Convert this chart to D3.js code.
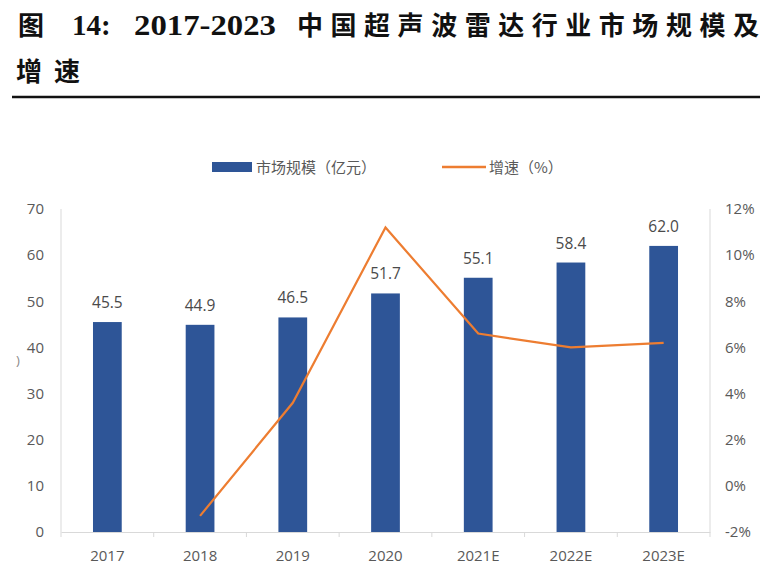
<!DOCTYPE html>
<html>
<head>
<meta charset="utf-8">
<script src="https://cdn.jsdelivr.net/npm/d3@7"></script>
<style>
  body { margin: 0; background: #fff; }
  svg { display: block; }
</style>
</head>
<body>
<div id="chart"></div>
<script>
const years = ['2017', '2018', '2019', '2020', '2021E', '2022E', '2023E']
const marketSize = [45.5, 44.9, 46.5, 51.7, 55.1, 58.4, 62.0]
// growth has no point for 2017
const growthYears = ['2018', '2019', '2020', '2021E', '2022E', '2023E']
const growth = [-1.3, 3.6, 11.2, 6.6, 6.0, 6.2]
const leftTicks = [0, 10, 20, 30, 40, 50, 60, 70]
const rightTicks = [-2, 0, 2, 4, 6, 8, 10, 12]

const width = 772
const height = 588
const margin = { top: 209, right: 62, bottom: 56, left: 61 }

const grey = '#595959'
const axisGrey = '#d9d9d9'
const barBlue = '#2e5597'
const lineOrange = '#ed7d31'
const numFont = '"Open Sans", "Noto Sans", sans-serif'
const cjkFont = '"Noto Sans CJK SC", sans-serif'
const serifFont = '"Liberation Serif", "Times New Roman", serif'

const svg = d3.select('#chart')
  .append('svg')
  .attr('width', width)
  .attr('height', height)

// title, pieced together so the latin part gets a serif face
const title = svg.append('g')
  .attr('font-weight', 'bold')
  .attr('fill', '#111')

title.append('text')
  .attr('x', 18).attr('y', 35)
  .attr('font-family', cjkFont)
  .attr('font-size', 26)
  .text('图')

title.append('text')
  .attr('x', 72).attr('y', 35)
  .attr('font-family', serifFont)
  .attr('font-size', 29)
  .text('14:')

title.append('text')
  .attr('x', 134).attr('y', 35)
  .attr('font-family', serifFont)
  .attr('font-size', 29)
  .attr('textLength', 142)
  .attr('lengthAdjust', 'spacingAndGlyphs')
  .text('2017-2023')

title.append('text')
  .attr('x', 297).attr('y', 35)
  .attr('font-family', cjkFont)
  .attr('font-size', 26)
  .attr('textLength', 462)
  .attr('lengthAdjust', 'spacing')
  .text('中国超声波雷达行业市场规模及')

title.append('text')
  .attr('x', 16).attr('y', 81)
  .attr('font-family', cjkFont)
  .attr('font-size', 26)
  .attr('textLength', 64)
  .attr('lengthAdjust', 'spacing')
  .text('增速')

svg.append('line')
  .attr('x1', 12)
  .attr('x2', 760)
  .attr('y1', 97)
  .attr('y2', 97)
  .attr('stroke', '#111')
  .attr('stroke-width', 2.5)

// scales
const x = d3.scaleBand()
  .domain(years)
  .range([margin.left, width - margin.right])
  .paddingInner(0.69)
  .paddingOuter(0.345)

const band = d3.scaleBand()
  .domain(years)
  .range([margin.left, width - margin.right])

const y = d3.scaleLinear()
  .domain([0, 70])
  .range([height - margin.bottom, margin.top])

const y2 = d3.scaleLinear()
  .domain([-2, 12])
  .range([height - margin.bottom, margin.top])

// axes
const bottom = height - margin.bottom

svg.append('line')
  .attr('x1', margin.left).attr('x2', margin.left)
  .attr('y1', margin.top).attr('y2', bottom)
  .attr('stroke', axisGrey)

svg.append('line')
  .attr('x1', width - margin.right).attr('x2', width - margin.right)
  .attr('y1', margin.top).attr('y2', bottom)
  .attr('stroke', axisGrey)

const xAxis = svg.append('g')
  .attr('transform', `translate(0,${bottom})`)
  .call(d3.axisBottom(band).tickSize(0).tickPadding(18))

xAxis.select('.domain').attr('stroke', axisGrey)
xAxis.selectAll('text')
  .attr('font-family', numFont)
  .attr('font-size', 15)
  .attr('fill', grey)

// boundary ticks between categories
svg.append('g')
  .selectAll('line')
  .data(years.concat(['end']))
  .join('line')
  .attr('x1', (d, i) => margin.left + i * band.step())
  .attr('x2', (d, i) => margin.left + i * band.step())
  .attr('y1', bottom)
  .attr('y2', bottom + 5)
  .attr('stroke', axisGrey)

const leftAxis = svg.append('g')
  .attr('transform', `translate(${margin.left},0)`)
  .call(d3.axisLeft(y).tickValues(leftTicks).tickSize(0).tickPadding(17))

leftAxis.select('.domain').remove()
leftAxis.selectAll('text')
  .attr('font-family', numFont)
  .attr('font-size', 15)
  .attr('fill', grey)

const rightAxis = svg.append('g')
  .attr('transform', `translate(${width - margin.right},0)`)
  .call(d3.axisRight(y2).tickValues(rightTicks).tickSize(0).tickPadding(15)
    .tickFormat(d => d + '%'))

rightAxis.select('.domain').remove()
rightAxis.selectAll('text')
  .attr('font-family', numFont)
  .attr('font-size', 15)
  .attr('fill', grey)

// bars
svg.append('g')
  .selectAll('rect')
  .data(years)
  .join('rect')
  .attr('x', d => x(d))
  .attr('width', x.bandwidth())
  .attr('y', (d, i) => y(marketSize[i]))
  .attr('height', (d, i) => bottom - y(marketSize[i]))
  .attr('fill', barBlue)

// growth line
const line = d3.line()
  .x(d => band(d[0]) + band.bandwidth() / 2)
  .y(d => y2(d[1]))

svg.append('path')
  .datum(d3.zip(growthYears, growth))
  .attr('d', line)
  .attr('fill', 'none')
  .attr('stroke', lineOrange)
  .attr('stroke-width', 2.2)

// bar labels
svg.append('g')
  .selectAll('text')
  .data(years)
  .join('text')
  .attr('x', d => band(d) + band.bandwidth() / 2)
  .attr('y', (d, i) => y(marketSize[i]) - 14)
  .attr('text-anchor', 'middle')
  .attr('font-family', numFont)
  .attr('font-size', 15.5)
  .attr('fill', '#4a4a4a')
  .text((d, i) => marketSize[i].toFixed(1))

// legend
const legend = svg.append('g')
  .attr('font-family', cjkFont)
  .attr('font-size', 15)
  .attr('fill', grey)

legend.append('rect')
  .attr('x', 212).attr('y', 162)
  .attr('width', 40).attr('height', 10)
  .attr('fill', barBlue)

legend.append('text')
  .attr('x', 256).attr('y', 173)
  .text('市场规模（亿元）')

legend.append('line')
  .attr('x1', 442).attr('x2', 486)
  .attr('y1', 167).attr('y2', 167)
  .attr('stroke', lineOrange)
  .attr('stroke-width', 2.5)

legend.append('text')
  .attr('x', 489).attr('y', 173)
  .text('增速（%）')

// clipped remnant of a rotated axis title
svg.append('text')
  .attr('x', 16).attr('y', 365)
  .attr('font-family', numFont)
  .attr('font-size', 13)
  .attr('fill', '#888')
  .text(')')
</script>
</body>
</html>
